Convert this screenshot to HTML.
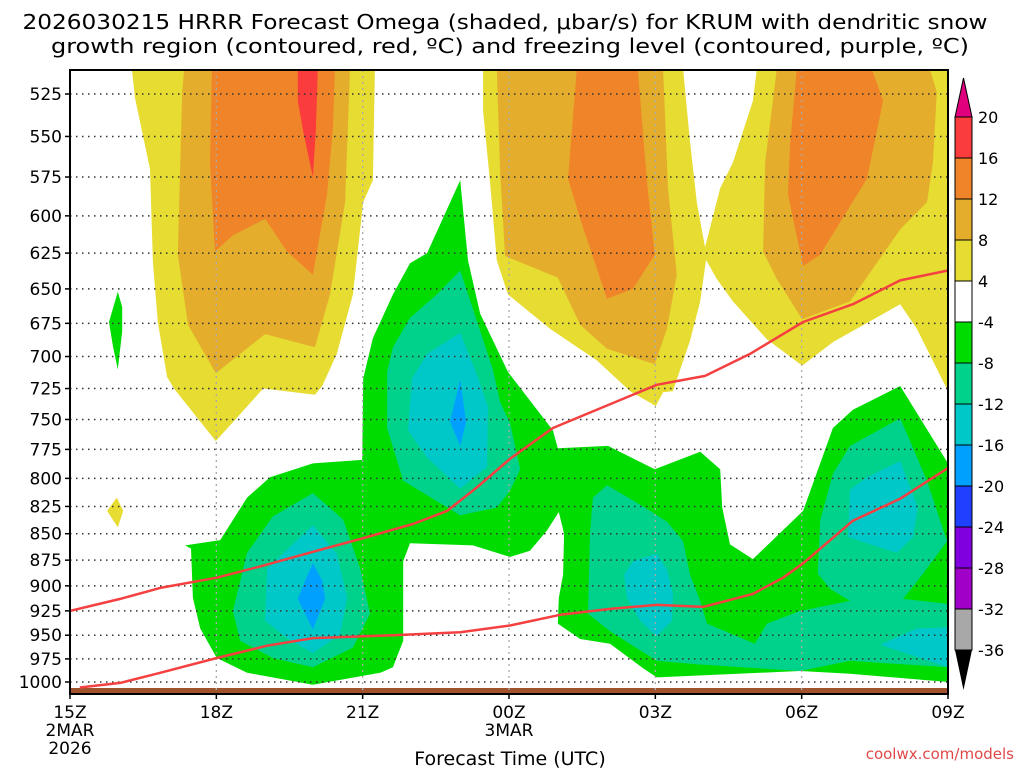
<!DOCTYPE html>
<html><head><meta charset="utf-8"><style>
html,body{margin:0;padding:0;background:#fff;}
svg{display:block;font-family:"DejaVu Sans","Liberation Sans",sans-serif;}
</style></head><body>
<svg id="chart" width="1024" height="768" viewBox="0 0 1024 768" xmlns="http://www.w3.org/2000/svg">
<rect width="1024" height="768" fill="#fff"/>
<text x="505" y="29" font-size="20" text-anchor="middle" textLength="965" lengthAdjust="spacingAndGlyphs">2026030215 HRRR Forecast Omega (shaded, μbar/s) for KRUM with dendritic snow</text>
<text x="510" y="53" font-size="20" text-anchor="middle" textLength="918" lengthAdjust="spacingAndGlyphs">growth region (contoured, red, ºC) and freezing level (contoured, purple, ºC)</text>
<g id="shade"></g>
<g id="grid"></g>
<g id="lines"></g>
<g id="axes"></g>
<g id="cbar"></g>
<text x="510" y="765" font-size="19" text-anchor="middle">Forecast Time (UTC)</text>
<text x="1014" y="759" font-size="15" text-anchor="end" fill="#e04848">coolwx.com/models</text>
</svg>
<script>
// ---- data (hour since 15Z, pressure hPa) ----
const pressureTicks=[525,550,575,600,625,650,675,700,725,750,775,800,825,850,875,900,925,950,975,1000];
const timeTicks=[0,3,6,9,12,15,18];
const timeLabels=["15Z","18Z","21Z","00Z","03Z","06Z","09Z"];
const cbLevels=["20","16","12","8","4","-4","-8","-12","-16","-20","-24","-28","-32","-36"];
const cbColors=["#e0007e","#fa3c3c","#f08428","#e4ae2c","#e6dc32","#ffffff","#00dc00","#00d28c","#00c8c8","#00a0ff","#2040ff","#8000e0","#a000c8","#a8a8a8","#000000"];

const yellow1=[[1.27,511],[1.33,527],[1.64,570],[1.70,631],[1.80,674],[1.99,716],[2.15,726],[2.99,768],[3.96,725],[5.02,730],[5.17,723],[5.47,698],[5.80,654],[6.01,591],[6.21,577],[6.25,511]];
const dkyellow1=[[2.34,511],[2.30,524],[2.21,626],[2.42,676],[2.99,713],[4.00,683],[5.02,693],[5.33,654],[5.64,591],[5.74,511]];
const orange1=[[2.91,511],[2.87,566],[2.97,624],[3.34,613],[4.00,602],[4.45,624],[4.98,640],[5.27,586],[5.39,545],[5.43,511]];
const red1=[[4.67,511],[4.67,529],[4.78,547],[4.98,575],[5.04,547],[5.08,511]];
const yellowDot=[[0.96,817],[0.76,829],[0.98,844],[1.09,829]];
const yellow2=[[8.47,511],[8.47,535],[8.61,578],[8.75,630],[8.98,654],[9.84,679],[10.80,703],[11.48,727],[12.01,739],[12.16,728],[12.36,727],[12.71,688],[12.92,659],[13.05,627],[12.85,591],[12.71,553],[12.57,511]];
const dkyellow2=[[8.75,511],[8.82,573],[8.92,627],[10.00,642],[10.46,676],[11.01,694],[11.99,706],[12.24,679],[12.44,640],[12.26,582],[12.16,511]];
const orange2=[[10.39,511],[10.21,576],[10.46,602],[11.01,657],[11.54,650],[11.99,626],[11.83,578],[11.64,511]];
const yellow3=[[14.08,511],[14.00,529],[13.59,566],[13.33,582],[13.12,608],[12.98,626],[13.26,643],[13.59,659],[14.29,687],[15.01,707],[15.64,689],[17.02,661],[17.36,679],[18.0,727],[18.0,511]];
const dkyellow3=[[14.49,511],[14.25,566],[14.21,624],[14.49,643],[15.01,672],[15.99,659],[17.02,609],[17.57,591],[17.69,566],[17.77,524],[17.63,511]];
const orange3=[[14.90,511],[14.76,555],[14.72,586],[15.03,634],[15.38,626],[16.34,576],[16.67,529],[16.44,511]];

const greenSpindle=[[0.98,652],[0.80,674],[0.88,692],[0.98,710],[1.07,681],[1.07,663]];
const greenMain=[[8.00,577],[8.16,630],[8.41,668],[8.98,712],[9.08,717],[9.90,759],[10.00,774],[11.03,772],[11.99,792],[12.92,777],[13.33,792],[13.37,826],[13.53,860],[14.00,874],[15.03,829],[15.64,757],[16.05,742],[17.02,723],[18.0,787],[18.0,1000],[15.99,991],[14.97,988],[12.03,995],[11.75,985],[11.07,959],[10.46,954],[10.00,938],[10.02,912],[10.11,889],[10.13,850],[10.02,830],[9.78,847],[9.43,866],[9.02,872],[8.26,861],[6.97,859],[6.83,876],[6.83,956],[6.62,984],[6.36,990],[4.98,1003],[3.63,990],[3.01,974],[2.67,943],[2.52,912],[2.48,864],[2.36,861],[3.08,856],[3.63,817],[4.10,799],[4.98,787],[5.99,784],[6.01,717],[6.21,686],[6.62,654],[6.97,632],[7.32,625]];
const teal1=[[8.00,637],[7.52,654],[6.97,671],[6.62,693],[6.50,712],[6.50,757],[6.83,802],[8.00,833],[8.75,826],[9.02,811],[9.23,792],[9.02,753],[8.82,736],[8.67,710],[8.34,673]];
const cyan1=[[8.00,682],[7.32,698],[7.01,717],[6.93,759],[7.32,782],[8.00,809],[8.55,790],[8.57,740],[8.36,716]];
const blue1=[[8.00,718],[7.79,752],[8.00,772],[8.12,752]];
const teal2=[[4.98,813],[4.16,834],[3.63,868],[3.34,925],[3.49,956],[4.16,974],[4.98,984],[5.80,963],[6.15,928],[5.95,883],[5.60,837]];
const cyan2=[[4.98,842],[4.04,883],[4.00,935],[4.45,953],[4.98,969],[5.54,949],[5.68,912],[5.47,869]];
const blue2=[[4.98,878],[4.82,895],[4.67,913],[4.98,944],[5.23,913],[5.17,895]];
const teal3=[[11.01,806],[10.72,817],[10.66,850],[10.62,928],[11.07,946],[12.03,977],[12.92,981],[14.97,988],[15.99,977],[18.0,984],[18.0,918],[17.08,913],[17.49,888],[17.98,857],[17.57,802],[17.02,749],[15.99,772],[15.64,796],[15.38,838],[15.33,888],[15.58,903],[15.99,915],[14.97,925],[14.29,938],[14.04,959],[13.06,938],[12.92,915],[12.71,889],[12.57,857],[12.24,839],[11.75,825]];
const cyan3=[[12.03,869],[11.54,876],[11.36,889],[11.42,912],[11.69,935],[12.03,951],[12.34,935],[12.36,908],[12.24,884]];
const cyan4=[[17.02,785],[16.34,799],[15.99,810],[15.95,853],[16.34,859],[16.95,868],[17.28,853],[17.38,826]];
const cyan5=[[16.61,960],[17.36,943],[18.0,942],[18.0,984],[17.43,974]];

const dgzTop=[[0,925],[1.03,913],[1.85,902],[3.01,892],[3.90,881],[4.98,867],[5.95,855],[7.03,841],[7.73,829],[8.34,808],[9.02,783],[9.90,757],[12.03,722],[13.02,715],[13.94,698],[15.03,674],[16.05,661],[17.02,644],[18.0,637]];
const dgzBottom=[[0.20,1006],[1.03,1001],[1.85,990],[3.01,974],[4.04,961],[4.98,953],[6.62,950],[8.00,947],[9.02,940],[10.05,929],[11.07,923],[12.03,919],[12.98,921],[14.00,908],[14.62,892],[15.03,878],[16.05,838],[17.02,818],[18.0,791]];

// ---- axes ----
const X0=70,X1=948,Y525=94,Y1000=682;
function xs(h){return X0+h*(X1-X0)/18;}
function ys(p){return Y525+(Math.log(p)-Math.log(525))/(Math.log(1000)-Math.log(525))*(Y1000-Y525);}
const NS="http://www.w3.org/2000/svg";
function mk(tag,attrs,parent){const e=document.createElementNS(NS,tag);for(const k in attrs)e.setAttribute(k,attrs[k]);parent.appendChild(e);return e;}
const shade=document.getElementById('shade');
const clip=mk('clipPath',{id:'pc'},document.getElementById('chart'));
mk('rect',{x:X0,y:70,width:X1-X0,height:624},clip);
shade.setAttribute('clip-path','url(#pc)');
function poly(pts,color,name){
  const p=mk('polygon',{points:pts.map(d=>xs(d[0]).toFixed(1)+','+ys(d[1]).toFixed(1)).join(' '),fill:color},shade);
  
  
}
poly(yellow1,cbColors[4],'omega-4-8-region');poly(yellow2,cbColors[4],'omega-4-8-region');poly(yellow3,cbColors[4],'omega-4-8-region');poly(yellowDot,cbColors[4],'omega-4-8-region');
poly(dkyellow1,cbColors[3],'omega-8-12-region');poly(dkyellow2,cbColors[3],'omega-8-12-region');poly(dkyellow3,cbColors[3],'omega-8-12-region');
poly(orange1,cbColors[2],'omega-12-16-region');poly(orange2,cbColors[2],'omega-12-16-region');poly(orange3,cbColors[2],'omega-12-16-region');
poly(red1,cbColors[1],'omega-16-20-region');
poly(greenSpindle,cbColors[6],'omega-neg4-neg8-region');poly(greenMain,cbColors[6],'omega-neg4-neg8-region');
poly(teal1,cbColors[7],'omega-neg8-neg12-region');poly(teal2,cbColors[7],'omega-neg8-neg12-region');poly(teal3,cbColors[7],'omega-neg8-neg12-region');
poly(cyan1,cbColors[8],'omega-neg12-neg16-region');poly(cyan2,cbColors[8],'omega-neg12-neg16-region');poly(cyan3,cbColors[8],'omega-neg12-neg16-region');poly(cyan4,cbColors[8],'omega-neg12-neg16-region');poly(cyan5,cbColors[8],'omega-neg12-neg16-region');
poly(blue1,cbColors[9],'omega-neg16-neg20-region');poly(blue2,cbColors[9],'omega-neg16-neg20-region');

// ground
const g0=mk('rect',{x:X0,y:688,width:X1-X0,height:6,fill:'#a0522d'},shade);



// grid
const grid=document.getElementById('grid');
timeTicks.forEach(t=>{ if(t>0&&t<18){const l=mk('line',{x1:xs(t),x2:xs(t),y1:70,y2:694,stroke:'#aaa','stroke-width':1.3,'stroke-dasharray':'2 4'},grid);

}});
pressureTicks.forEach(p=>{const l=mk('line',{x1:X0,x2:X1,y1:ys(p),y2:ys(p),stroke:'#333','stroke-width':1.5,'stroke-dasharray':'1.5 4.5'},grid);

});

// temp contours
const lines=document.getElementById('lines');
lines.setAttribute('clip-path','url(#pc)');
[[dgzTop,'dgz-top-line'],[dgzBottom,'dgz-bottom-line']].forEach(([d,n])=>{
  const pl=mk('polyline',{points:d.map(q=>xs(q[0]).toFixed(1)+','+ys(q[1]).toFixed(1)).join(' '),fill:'none',stroke:'#f44040','stroke-width':2.5,'stroke-linejoin':'round'},lines);
  
  
});

// axes frame, ticks, labels
const ax=document.getElementById('axes');
mk('rect',{x:X0,y:70,width:X1-X0,height:624,fill:'none',stroke:'#000','stroke-width':2},ax);
pressureTicks.forEach(p=>{
  mk('line',{x1:X0-5,x2:X0,y1:ys(p),y2:ys(p),stroke:'#000','stroke-width':1.5},ax);
  const t=mk('text',{x:62,y:ys(p)+6,'font-size':17,'text-anchor':'end'},ax);
  t.textContent=p;
  
  
});
timeTicks.forEach((h,i)=>{
  mk('line',{x1:xs(h),x2:xs(h),y1:694,y2:699,stroke:'#000','stroke-width':1.5},ax);
  const t=mk('text',{x:xs(h),y:718,'font-size':17,'text-anchor':'middle'},ax);
  t.textContent=timeLabels[i];
  
  
});
[['2MAR',xs(0),736],['2026',xs(0),754],['3MAR',xs(9),736]].forEach(a=>{
  const t=mk('text',{x:a[1],y:a[2],'font-size':17,'text-anchor':'middle'},ax);
  t.textContent=a[0];
  
  
});

// colorbar
const cb=document.getElementById('cbar');
const CBX=955,CBW=17,CBT=117,STEP=41;
const tri=mk('polygon',{points:`${CBX},${CBT} ${CBX+CBW},${CBT} ${CBX+CBW/2},78`,fill:cbColors[0],stroke:'#000','stroke-width':1},cb);


for(let i=1;i<cbColors.length-1;i++){
  const r=mk('rect',{x:CBX,y:CBT+(i-1)*STEP,width:CBW,height:STEP,fill:cbColors[i],stroke:'#000','stroke-width':1},cb);
  
  
}
const bot=CBT+(cbColors.length-2)*STEP;
const tri2=mk('polygon',{points:`${CBX},${bot} ${CBX+CBW},${bot} ${CBX+CBW/2},690`,fill:'#000'},cb);


cbLevels.forEach((l,i)=>{
  const t=mk('text',{x:978,y:CBT+i*STEP+6,'font-size':16},cb);
  t.textContent=l;
  
  
});
</script>
</body></html>
